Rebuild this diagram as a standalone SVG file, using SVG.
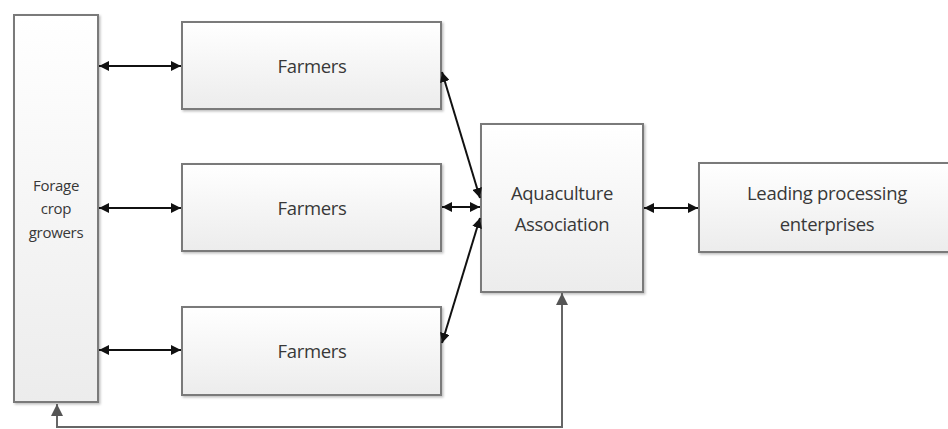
<svg xmlns="http://www.w3.org/2000/svg" width="948" height="429" viewBox="0 0 948 429">
<defs>
<linearGradient id="g" x1="0" y1="0" x2="0" y2="1">
<stop offset="0" stop-color="#ffffff"/>
<stop offset="1" stop-color="#ececec"/>
</linearGradient>
<filter id="sh" x="-5%" y="-5%" width="115%" height="115%">
<feDropShadow dx="1.5" dy="1.5" stdDeviation="1" flood-color="#000" flood-opacity="0.25"/>
</filter>
<marker id="ab" viewBox="0 0 10 10" refX="10" refY="5" markerWidth="10" markerHeight="10" markerUnits="userSpaceOnUse" orient="auto-start-reverse">
<path d="M0,0 L10,5 L0,10 z" fill="#111"/>
</marker>
<marker id="ag" viewBox="0 0 10 10" refX="10" refY="5" markerWidth="12" markerHeight="12" markerUnits="userSpaceOnUse" orient="auto">
<path d="M0,0 L10,5 L0,10 z" fill="#555"/>
</marker>
</defs>
<style>
.box{fill:url(#g);stroke:#7a7a7a;stroke-width:2;filter:url(#sh)}
.t{font-family:"Open Sans","Liberation Sans",sans-serif;fill:#383838;text-anchor:middle;font-size:18.5px;letter-spacing:-0.3px}
.s{font-size:15px;letter-spacing:-0.3px}
.c{fill:none;stroke:#111;stroke-width:2}
.f{fill:none;stroke:#666;stroke-width:2}
</style>
<g id="forage">
<rect class="box" x="14" y="15" width="84" height="387"/>
<text class="t s" x="56" y="191">Forage</text>
<text class="t s" x="56" y="214">crop</text>
<text class="t s" x="56" y="238">growers</text>
</g>
<g id="farmers1">
<rect class="box" x="182" y="22" width="259" height="87"/>
<text class="t" x="312" y="73">Farmers</text>
</g>
<g id="farmers2">
<rect class="box" x="182" y="164" width="259" height="87"/>
<text class="t" x="312" y="215">Farmers</text>
</g>
<g id="farmers3">
<rect class="box" x="182" y="307" width="259" height="88"/>
<text class="t" x="312" y="358">Farmers</text>
</g>
<g id="aquaculture">
<rect class="box" x="481" y="124" width="162" height="168"/>
<text class="t" x="562" y="200">Aquaculture</text>
<text class="t" x="562" y="231">Association</text>
</g>
<g id="leading">
<rect class="box" x="699" y="163" width="252" height="89"/>
<text class="t" x="827" y="200">Leading processing</text>
<text class="t" x="827" y="231">enterprises</text>
</g>
<g id="connectors">
<line class="c" x1="99" y1="66" x2="181" y2="66" marker-start="url(#ab)" marker-end="url(#ab)"/>
<line class="c" x1="99" y1="208" x2="181" y2="208" marker-start="url(#ab)" marker-end="url(#ab)"/>
<line class="c" x1="99" y1="350" x2="181" y2="350" marker-start="url(#ab)" marker-end="url(#ab)"/>
<line class="c" x1="442" y1="207" x2="480" y2="207" marker-start="url(#ab)" marker-end="url(#ab)"/>
<line class="c" stroke-width="1.6" x1="442" y1="72" x2="480" y2="198" marker-start="url(#ab)" marker-end="url(#ab)"/>
<line class="c" stroke-width="1.6" x1="442" y1="343" x2="480" y2="218" marker-start="url(#ab)" marker-end="url(#ab)"/>
<line class="c" x1="644" y1="208" x2="698" y2="208" marker-start="url(#ab)" marker-end="url(#ab)"/>
<polyline class="f" points="562,294 562,427 57,427 57,404" marker-end="url(#ag)"/>
<line class="f" x1="562" y1="305" x2="562" y2="293" marker-end="url(#ag)"/>
</g>
</svg>
